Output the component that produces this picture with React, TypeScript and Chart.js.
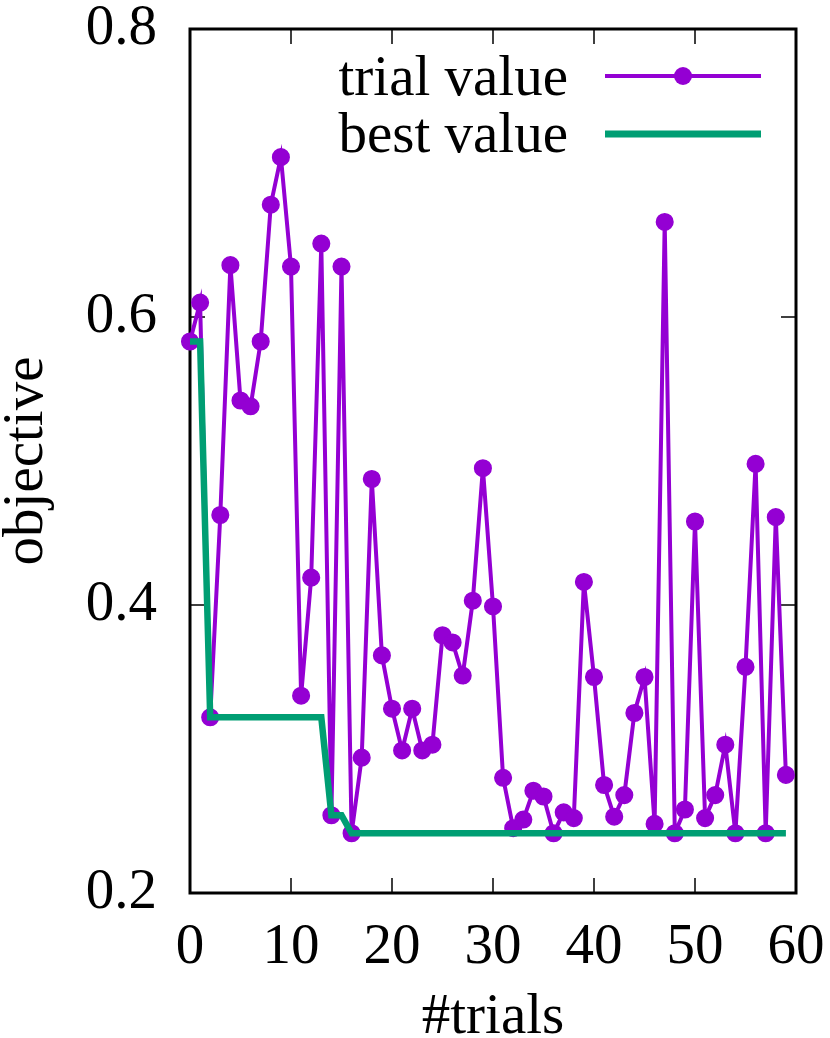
import { useEffect, useRef } from "react";
import { Chart, registerables } from "chart.js";

Chart.register(...registerables);

const trials = [
  0, 1, 2, 3, 4, 5, 6, 7, 8, 9, 10, 11, 12, 13, 14, 15, 16, 17, 18, 19, 20, 21, 22, 23, 24, 25, 26, 27, 28, 29,
  30, 31, 32, 33, 34, 35, 36, 37, 38, 39, 40, 41, 42, 43, 44, 45, 46, 47, 48, 49, 50, 51, 52, 53, 54, 55, 56, 57, 58, 59,
];

const trialValues = [
  0.583, 0.61, 0.322, 0.4625, 0.636, 0.542, 0.538, 0.583, 0.678, 0.711,
  0.635, 0.337, 0.419, 0.651, 0.254, 0.635, 0.2415, 0.294, 0.4875, 0.365,
  0.328, 0.299, 0.328, 0.299, 0.303, 0.379, 0.374, 0.351, 0.403, 0.495,
  0.399, 0.28, 0.245, 0.251, 0.271, 0.267, 0.2415, 0.256, 0.252, 0.416,
  0.35, 0.275, 0.253, 0.268, 0.325, 0.35, 0.248, 0.666, 0.2415, 0.258,
  0.458, 0.252, 0.268, 0.303, 0.2415, 0.357, 0.498, 0.2415, 0.461, 0.282,
];

const bestValues = [
  0.583, 0.583, 0.322, 0.322, 0.322, 0.322, 0.322, 0.322, 0.322, 0.322,
  0.322, 0.322, 0.322, 0.322, 0.254, 0.254, 0.2415, 0.2415, 0.2415, 0.2415,
  0.2415, 0.2415, 0.2415, 0.2415, 0.2415, 0.2415, 0.2415, 0.2415, 0.2415, 0.2415,
  0.2415, 0.2415, 0.2415, 0.2415, 0.2415, 0.2415, 0.2415, 0.2415, 0.2415, 0.2415,
  0.2415, 0.2415, 0.2415, 0.2415, 0.2415, 0.2415, 0.2415, 0.2415, 0.2415, 0.2415,
  0.2415, 0.2415, 0.2415, 0.2415, 0.2415, 0.2415, 0.2415, 0.2415, 0.2415, 0.2415,
];

const xTickValues = [0, 10, 20, 30, 40, 50, 60];
const yTickValues = [0.2, 0.4, 0.6, 0.8];
const seriesLabels = ["trial value", "best value"];
const xTitle = "#trials";
const yTitle = "objective";

const PURPLE = "#9400d3";
const GREEN = "#009e73";
const FONT = '"Liberation Serif", "Times New Roman", serif';
const FS = 57;

const framePlugin = {
  id: "frame",
  beforeDatasetsDraw(chart: any) {
    const { ctx, chartArea, scales } = chart;
    const { left, right, top, bottom } = chartArea;
    const tl = 15;
    ctx.save();
    ctx.strokeStyle = "#000";
    ctx.lineWidth = 1.5;
    ctx.beginPath();
    xTickValues.slice(1, -1).forEach((v) => {
      const px = scales.x.getPixelForValue(v);
      ctx.moveTo(px, bottom);
      ctx.lineTo(px, bottom - tl);
      ctx.moveTo(px, top);
      ctx.lineTo(px, top + tl);
    });
    yTickValues.slice(1, -1).forEach((v) => {
      const py = scales.y.getPixelForValue(v);
      ctx.moveTo(left, py);
      ctx.lineTo(left + tl, py);
      ctx.moveTo(right, py);
      ctx.lineTo(right - tl, py);
    });
    ctx.stroke();
    ctx.lineWidth = 3;
    ctx.strokeRect(left, top, right - left, bottom - top);
    ctx.restore();
  },
  afterDraw(chart: any) {
    const { ctx, chartArea } = chart;
    const { left, right, top, bottom } = chartArea;
    ctx.save();
    ctx.fillStyle = "#000";
    ctx.font = `${FS}px ${FONT}`;
    // axis titles
    ctx.textAlign = "center";
    ctx.textBaseline = "alphabetic";
    ctx.fillText(xTitle, (left + right) / 2, 1033);
    ctx.save();
    ctx.translate(42, (top + bottom) / 2);
    ctx.rotate(-Math.PI / 2);
    ctx.fillText(yTitle, 0, 0);
    ctx.restore();
    // legend
    const textRight = left + 378;
    const lx0 = left + 415;
    const lx1 = left + 571;
    const rows = [top + 47, top + 105];
    ctx.textAlign = "right";
    ctx.fillText(seriesLabels[0], textRight, rows[0] + 19);
    ctx.fillText(seriesLabels[1], textRight, rows[1] + 18);
    ctx.lineCap = "butt";
    ctx.strokeStyle = PURPLE;
    ctx.lineWidth = 4;
    ctx.beginPath();
    ctx.moveTo(lx0, rows[0]);
    ctx.lineTo(lx1, rows[0]);
    ctx.stroke();
    ctx.fillStyle = PURPLE;
    ctx.beginPath();
    ctx.arc((lx0 + lx1) / 2, rows[0], 9, 0, Math.PI * 2);
    ctx.fill();
    ctx.strokeStyle = GREEN;
    ctx.lineWidth = 7;
    ctx.beginPath();
    ctx.moveTo(lx0, rows[1]);
    ctx.lineTo(lx1, rows[1]);
    ctx.stroke();
    ctx.restore();
  },
};

export default function App() {
  const canvasRef = useRef<HTMLCanvasElement | null>(null);

  useEffect(() => {
    if (!canvasRef.current) return;
    Chart.defaults.font.family = FONT;
    Chart.defaults.color = "#000";
    const chart = new Chart(canvasRef.current, {
      type: "line",
      data: {
        datasets: [
          {
            label: seriesLabels[1],
            data: trials.map((t, i) => ({ x: t, y: bestValues[i] })),
            borderColor: GREEN,
            backgroundColor: GREEN,
            borderWidth: 6.5,
            pointRadius: 0,
            pointHoverRadius: 0,
            tension: 0,
            clip: false as any,
            order: 0,
          },
          {
            label: seriesLabels[0],
            data: trials.map((t, i) => ({ x: t, y: trialValues[i] })),
            borderColor: PURPLE,
            backgroundColor: PURPLE,
            borderWidth: 4,
            pointRadius: 8.3,
            pointBorderWidth: 1.5,
            pointBackgroundColor: PURPLE,
            pointBorderColor: PURPLE,
            tension: 0,
            clip: false as any,
            order: 1,
          },
        ],
      },
      options: {
        responsive: false,
        animation: false,
        events: [],
        layout: { padding: { left: 0, right: 34, top: 29, bottom: 0 } },
        plugins: {
          legend: { display: false },
          tooltip: { enabled: false },
          title: { display: false },
        },
        scales: {
          x: {
            type: "linear",
            min: 0,
            max: 60,
            border: { display: false },
            grid: { display: false, drawTicks: false },
            ticks: {
              stepSize: 10,
              padding: 27,
              maxRotation: 0,
              font: { size: FS, family: FONT, lineHeight: 1 },
              color: "#000",
            },
            afterFit(scale: any) {
              scale.height = 1038 - 893;
              scale.paddingLeft = 0;
              scale.paddingRight = 0;
            },
          },
          y: {
            type: "linear",
            min: 0.2,
            max: 0.8,
            border: { display: false },
            grid: { display: false, drawTicks: false },
            ticks: {
              stepSize: 0.2,
              padding: 33,
              font: { size: FS, family: FONT, lineHeight: 1 },
              color: "#000",
              callback: (v: any) => Number(v).toFixed(1),
            },
            afterFit(scale: any) {
              scale.width = 190;
              scale.paddingTop = 0;
              scale.paddingBottom = 0;
            },
          },
        },
      },
      plugins: [framePlugin],
    });
    return () => chart.destroy();
  }, []);

  return (
    <div style={{ position: "absolute", left: 0, top: 0, width: 830, height: 1038, background: "#fff" }}>
      <canvas ref={canvasRef} width={830} height={1038} style={{ display: "block" }} />
    </div>
  );
}
